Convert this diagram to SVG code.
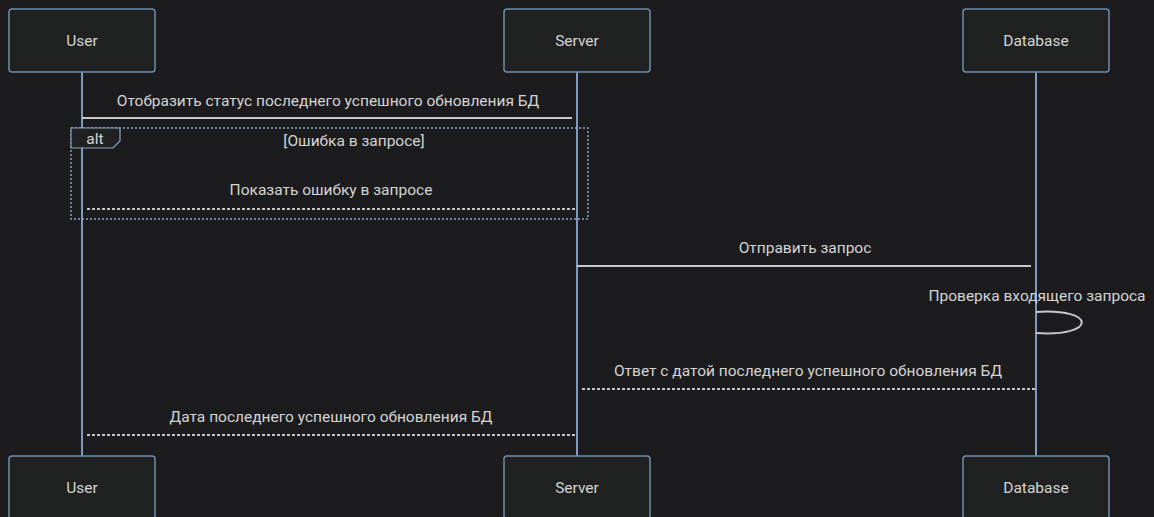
<svg xmlns="http://www.w3.org/2000/svg" width="1154" height="517" viewBox="0 0 1154 517">
<style>
.actor rect{fill:#202221;stroke:#6e8cb0;stroke-width:1.5}
.lbl{font-family:Roboto,"Liberation Sans",sans-serif;font-size:15.5px;fill:#d4d4d4;text-anchor:middle}
.life{stroke:#7c9cc2;stroke-width:2}
.msg{stroke:#c8c8c8;stroke-width:2;fill:none}
.dash{stroke-dasharray:3,2}
.frame{fill:none;stroke:#8aa4c4;stroke-width:1.5;stroke-dasharray:2,2}
</style>
<rect width="1154" height="517" fill="#1c1c1e"/>
<g id="lifelines">
<line class="life" x1="82" y1="72" x2="82" y2="456"/>
<line class="life" x1="577" y1="72" x2="577" y2="456"/>
<line class="life" x1="1036" y1="72" x2="1036" y2="456"/>
</g>
<g id="user-top" class="actor"><rect x="9" y="9" width="146" height="63" rx="3"/><text class="lbl" x="82" y="46">User</text></g>
<g id="server-top" class="actor"><rect x="504" y="9" width="146" height="63" rx="3"/><text class="lbl" x="577" y="46">Server</text></g>
<g id="db-top" class="actor"><rect x="963" y="9" width="146" height="63" rx="3"/><text class="lbl" x="1036" y="46">Database</text></g>
<g id="user-bottom" class="actor"><rect x="9" y="456" width="146" height="63" rx="3"/><text class="lbl" x="82" y="493">User</text></g>
<g id="server-bottom" class="actor"><rect x="504" y="456" width="146" height="63" rx="3"/><text class="lbl" x="577" y="493">Server</text></g>
<g id="db-bottom" class="actor"><rect x="963" y="456" width="146" height="63" rx="3"/><text class="lbl" x="1036" y="493">Database</text></g>
<g id="alt-frame">
<rect class="frame" x="71" y="128" width="517" height="91"/>
<path d="M71,128 H120 V141 L113,148 H71 Z" fill="#202221" stroke="#8aa4c4" stroke-width="1.2"/>
<text class="lbl" x="95" y="144">alt</text>
<text class="lbl" x="354" y="146">[Ошибка в запросе]</text>
</g>
<g id="connectors">
<text class="lbl" x="328" y="106">Отобразить статус последнего успешного обновления БД</text>
<line class="msg" x1="82" y1="118" x2="572" y2="118"/>
<text class="lbl" x="331" y="195">Показать ошибку в запросе</text>
<line class="msg dash" x1="87" y1="209" x2="577" y2="209"/>
<text class="lbl" x="805" y="253">Отправить запрос</text>
<line class="msg" x1="577" y1="266" x2="1031" y2="266"/>
<text class="lbl" x="1037" y="301">Проверка входящего запроса</text>
<path class="msg" d="M1036,312 C1097,308 1097,337 1036,333"/>
<text class="lbl" x="808" y="376">Ответ с датой последнего успешного обновления БД</text>
<line class="msg dash" x1="582" y1="389" x2="1036" y2="389"/>
<text class="lbl" x="331" y="422">Дата последнего успешного обновления БД</text>
<line class="msg dash" x1="87" y1="435" x2="577" y2="435"/>
</g>
</svg>
